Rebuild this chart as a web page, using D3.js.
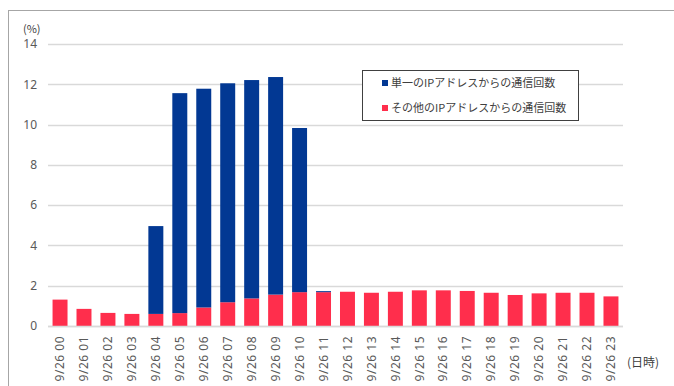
<!DOCTYPE html>
<html>
<head>
<meta charset="utf-8">
<script src="https://cdn.jsdelivr.net/npm/d3@7"></script>
<style>
  body { margin: 0; background: #fff; }
  text { font-family: "Noto Sans CJK JP", "Noto Sans", sans-serif; }
</style>
</head>
<body>
<div id="chart"></div>
<script>
// hours of 9/26
const categories = ["9/26 00","9/26 01","9/26 02","9/26 03","9/26 04","9/26 05","9/26 06","9/26 07",
  "9/26 08","9/26 09","9/26 10","9/26 11","9/26 12","9/26 13","9/26 14","9/26 15",
  "9/26 16","9/26 17","9/26 18","9/26 19","9/26 20","9/26 21","9/26 22","9/26 23"];
// その他のIPアドレス (bottom, red)
const otherValues = [1.31, 0.85, 0.65, 0.6, 0.6, 0.64, 0.92, 1.18, 1.37, 1.56, 1.68, 1.68,
  1.7, 1.65, 1.7, 1.77, 1.77, 1.74, 1.65, 1.54, 1.62, 1.65, 1.65, 1.47];
// 単一のIPアドレス (top, blue)
const singleValues = [0, 0, 0, 0, 4.36, 10.92, 10.86, 10.87, 10.84, 10.8, 8.15, 0.05,
  0, 0, 0, 0, 0, 0, 0, 0, 0, 0, 0, 0];
const yTicks = [0, 2, 4, 6, 8, 10, 12, 14];
const seriesNames = ["単一のIPアドレスからの通信回数", "その他のIPアドレスからの通信回数"];

const width = 674, height = 386;
const margin = { top: 44, left: 48, right: 51, bottom: 60 };
const blue = "#023893", red = "#FF2E4C";

const svg = d3.select("#chart").append("svg")
  .attr("width", width).attr("height", height);

// outer frame
svg.append("rect")
  .attr("x", 8.5).attr("y", 10.5)
  .attr("width", 700).attr("height", 400)
  .attr("fill", "none").attr("stroke", "#a6a6a6");

const x = d3.scaleBand().domain(categories)
  .range([margin.left, width - margin.right]).paddingInner(0.375).paddingOuter(0.19);
const y = d3.scaleLinear().domain([0, 14]).range([326, 44]);

// gridlines
svg.append("g").selectAll("line").data(yTicks).enter().append("line")
  .attr("x1", margin.left).attr("x2", width - margin.right)
  .attr("y1", d => Math.round(y(d)) + 0.5).attr("y2", d => Math.round(y(d)) + 0.5)
  .attr("stroke", "#d9d9d9").attr("stroke-width", 1.3);

// y axis labels
const yAxis = svg.append("g").attr("transform", `translate(${margin.left},0)`)
  .call(d3.axisLeft(y).tickValues(yTicks).tickSize(0).tickPadding(11));
yAxis.select(".domain").remove();
yAxis.selectAll("text").attr("font-size", 12).attr("fill", "#595959")
  .style("font-family", "'Noto Sans', sans-serif");

svg.append("text").attr("x", 23).attr("y", 33)
  .attr("font-size", 11).attr("fill", "#404040").text("(%)");

// stacked bars
const stackData = categories.map((c, i) => ({ cat: c, other: otherValues[i], single: singleValues[i] }));
const stack = d3.stack().keys(["other", "single"])(stackData);
const colors = { other: red, single: blue };

svg.append("g").selectAll("g").data(stack).enter().append("g")
  .attr("fill", d => colors[d.key])
  .selectAll("rect").data(d => d).enter().append("rect")
  .attr("x", d => x(d.data.cat))
  .attr("width", x.bandwidth())
  .attr("y", d => y(d[1]))
  .attr("height", d => y(d[0]) - y(d[1]));

// x axis labels (rotated)
const xAxis = svg.append("g").attr("transform", `translate(0,326)`)
  .call(d3.axisBottom(x).tickSize(0).tickPadding(0));
xAxis.select(".domain").attr("stroke", "#d9d9d9").attr("stroke-width", 1.3)
  .attr("d", `M${margin.left},0.5H${width - margin.right}`);
xAxis.selectAll("text")
  .attr("font-size", 12).attr("fill", "#595959")
  .attr("letter-spacing", 0.5)
  .style("font-family", "'Noto Sans', sans-serif")
  .attr("text-anchor", "end")
  .attr("transform", "rotate(-90)")
  .attr("x", -10).attr("y", 0).attr("dy", "0.35em");

svg.append("text").attr("x", 627).attr("y", 367)
  .attr("font-size", 12).attr("fill", "#404040").text("(日時)");

// legend
const lg = svg.append("g");
lg.append("rect").attr("x", 362.5).attr("y", 70.5).attr("width", 216).attr("height", 50)
  .attr("fill", "#fff").attr("stroke", "#404040");
seriesNames.forEach((n, i) => {
  const ly = 83 + i * 25;
  lg.append("rect").attr("x", 382).attr("y", ly - 3).attr("width", 6).attr("height", 6)
    .attr("fill", i === 0 ? blue : red);
  lg.append("text").attr("x", 391).attr("y", ly).attr("dy", "0.35em")
    .attr("font-size", 11).attr("fill", "#404040").text(n);
});
</script>
</body>
</html>
